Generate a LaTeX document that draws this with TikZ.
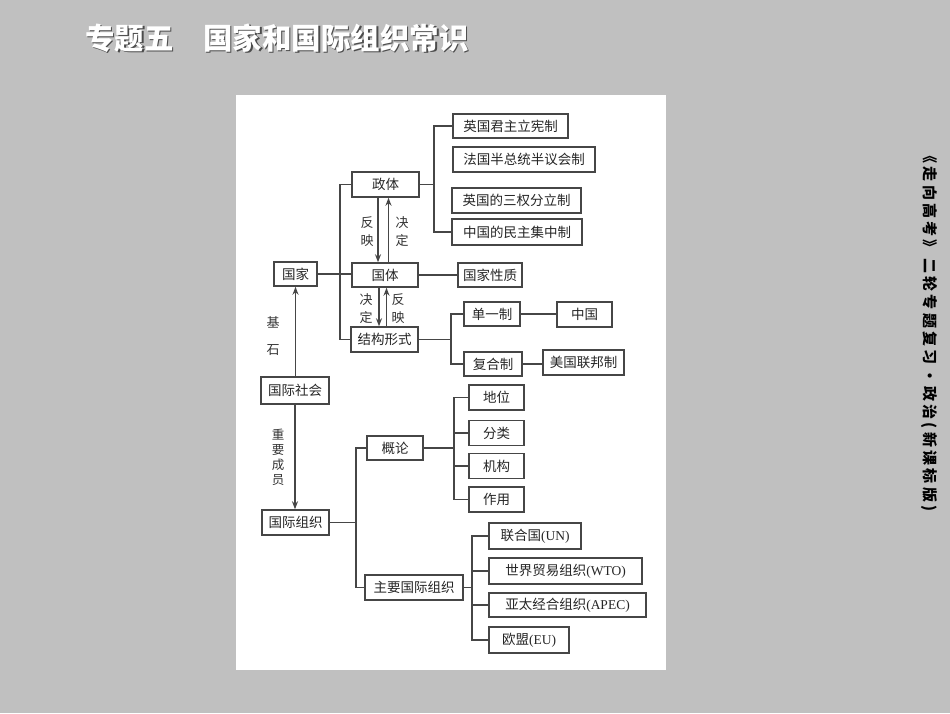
\documentclass[tikz,border=0pt]{standalone}
\usepackage{fontspec}
\setmainfont{Liberation Serif}
\newfontfamily\cjk{Noto Sans CJK SC}
\usetikzlibrary{arrows.meta}
\definecolor{bggray}{RGB}{192,192,192}
\definecolor{ln}{RGB}{70,70,70}
\tikzset{
  box/.style={draw=ln, line width=1.5pt, fill=white, inner sep=0pt, minimum height=24pt,
    font=\cjk\fontsize{13.5}{15}\selectfont, text=black!85},
  conn/.style={draw=ln, line width=1.6pt},
  arr/.style={conn, -{Stealth[length=8pt,width=6pt]}},
  lbl/.style={font=\cjk\fontsize{13}{18}\selectfont, text=black!80, align=center, inner sep=0pt},
}
\begin{document}
\begin{tikzpicture}[x=1pt,y=-1pt]
\fill[bggray] (0,0) rectangle (950,713);
\useasboundingbox (0,0) rectangle (950,713);
\fill[white] (236,95) rectangle (666,670);

% title
\node[anchor=west, font=\cjk\bfseries\fontsize{29.5}{31}\selectfont, text=black!70, inner sep=0pt] (titles) at (86.5,39.5) {专题五　国家和国际组织常识};
\node[anchor=west, font=\cjk\bfseries\fontsize{29.5}{31}\selectfont, text=white, inner sep=0pt] (title) at (85,38) {专题五　国家和国际组织常识};

% side text
\node[rotate=-90, font=\cjk\bfseries\fontsize{15}{17}\selectfont\addfontfeature{LetterSpace=22}, text=black, inner sep=0pt] (side) at (929,330) {《走向高考》二轮专题复习·政治(新课标版)};

% nodes
\node[box, minimum width=67pt, minimum height=25pt] (zt) at (385.5,184.5) {政体};
\node[box, minimum width=66pt] (gt) at (385,275) {国体};
\node[box, minimum width=43pt] (gj) at (295.5,274) {国家};
\node[box, minimum width=64pt] (gjxz) at (490,275) {国家性质};
\node[box, minimum width=67pt, minimum height=25pt] (jgxs) at (384.5,339.5) {结构形式};
\node[box, minimum width=56pt] (dyz) at (492,314) {单一制};
\node[box, minimum width=55pt, minimum height=25pt] (zg) at (584.5,314.5) {中国};
\node[box, minimum width=58pt] (fhz) at (493,364) {复合制};
\node[box, minimum width=81pt, minimum height=25pt] (mg) at (583.5,362.5) {美国联邦制};
\node[box, minimum width=68pt, minimum height=27pt] (gjsh) at (295,390.5) {国际社会};
\node[box, minimum width=67pt, minimum height=25pt] (gjzz) at (295.5,522.5) {国际组织};
\node[box, minimum width=56pt] (gl) at (395,448) {概论};
\node[box, minimum width=55pt, minimum height=25pt] (dw) at (496.5,397.5) {地位};
\node[box, minimum width=55pt, minimum height=25pt] (fl) at (496.5,433) {分类};
\node[box, minimum width=55pt, minimum height=25pt] (jg) at (496.5,466) {机构};
\node[box, minimum width=55pt, minimum height=25pt] (zy) at (496.5,499.5) {作用};
\node[box, minimum width=98pt, minimum height=25pt] (zygj) at (414,587.5) {主要国际组织};
\node[box, minimum width=92pt, minimum height=26pt] (un) at (535,536) {联合国{\rmfamily(UN)}};
\node[box, minimum width=153pt, minimum height=26pt] (wto) at (565.5,571) {世界贸易组织{\rmfamily(WTO)}};
\node[box, minimum width=157pt] (apec) at (567.5,605) {亚太经合组织{\rmfamily(APEC)}};
\node[box, minimum width=80pt, minimum height=26pt] (eu) at (529,640) {欧盟{\rmfamily(EU)}};
\node[box, minimum width=115pt] (ygjz) at (510.5,126) {英国君主立宪制};
\node[box, minimum width=142pt, minimum height=25pt] (fg) at (524,159.5) {法国半总统半议会制};
\node[box, minimum width=129pt, minimum height=25pt] (sq) at (516.5,200.5) {英国的三权分立制};
\node[box, minimum width=130pt, minimum height=26pt] (mzjz) at (517,232) {中国的民主集中制};

% coordinates for bracket joints
\coordinate (b1) at (435,184.5);
\coordinate (b2) at (452,339.5);
\coordinate (b3) at (357,522.5);
\coordinate (b4) at (455,448);
\coordinate (b5) at (473,587.5);

% connectors
\draw[conn] (zt.west) -- ++(-11,0) |- (jgxs.west);
\draw[conn] (gj.east) -- (gj.east -| gt.west);
\draw[conn] (gt.east) -- (gjxz.west);
\draw[conn] (zt.east) -- (b1);
\draw[conn] (ygjz.west) -- ++(-18,0) |- (mzjz.west);
\draw[conn] (jgxs.east) -- (b2);
\draw[conn] (dyz.west) -- ++(-12,0) |- (fhz.west);
\draw[conn] (dyz.east) -- (dyz.east -| zg.west);
\draw[conn] (fhz.east) -- (fhz.east -| mg.west);
\draw[conn] (gjzz.east) -- (b3);
\draw[conn] (gl.west) -- ++(-10,0) |- (zygj.west);
\draw[conn] (gl.east) -- (b4);
\draw[conn] (dw.west) -- ++(-14,0) |- (zy.west);
\draw[conn] (fl.west) -- ++(-14,0);
\draw[conn] (jg.west) -- ++(-14,0);
\draw[conn] (zygj.east) -- (b5);
\draw[conn] (un.west) -- ++(-16,0) |- (eu.west);
\draw[conn] (wto.west) -- ++(-16,0);
\draw[conn] (apec.west) -- ++(-16,0);

% arrows
\draw[arr] ([xshift=-7.5pt]zt.south) -- ([xshift=-7.5pt]zt.south |- gt.north);
\draw[arr] ([xshift=3.5pt]gt.north) -- ([xshift=3.5pt]gt.north |- zt.south);
\draw[arr] ([xshift=-6pt]gt.south) -- ([xshift=-6pt]gt.south |- jgxs.north);
\draw[arr] ([xshift=2pt]jgxs.north) -- ([xshift=2pt]jgxs.north |- gt.south);
\draw[arr] (gjsh.north -| gj.south) -- (gj.south);
\draw[arr] (gjsh.south) -- (gjsh.south |- gjzz.north);

% labels
\node[lbl] (l1) at (367,232) {反\\映};
\node[lbl] (l2) at (402,232) {决\\定};
\node[lbl] (l3) at (366,309) {决\\定};
\node[lbl] (l4) at (398,309) {反\\映};
\node[lbl] (l5) at (273,322) {基};
\node[lbl] (l6) at (273,350) {石};
\node[lbl, font=\cjk\fontsize{12.5}{15}\selectfont] (l7) at (278,457) {重\\要\\成\\员};
\end{tikzpicture}
\end{document}
